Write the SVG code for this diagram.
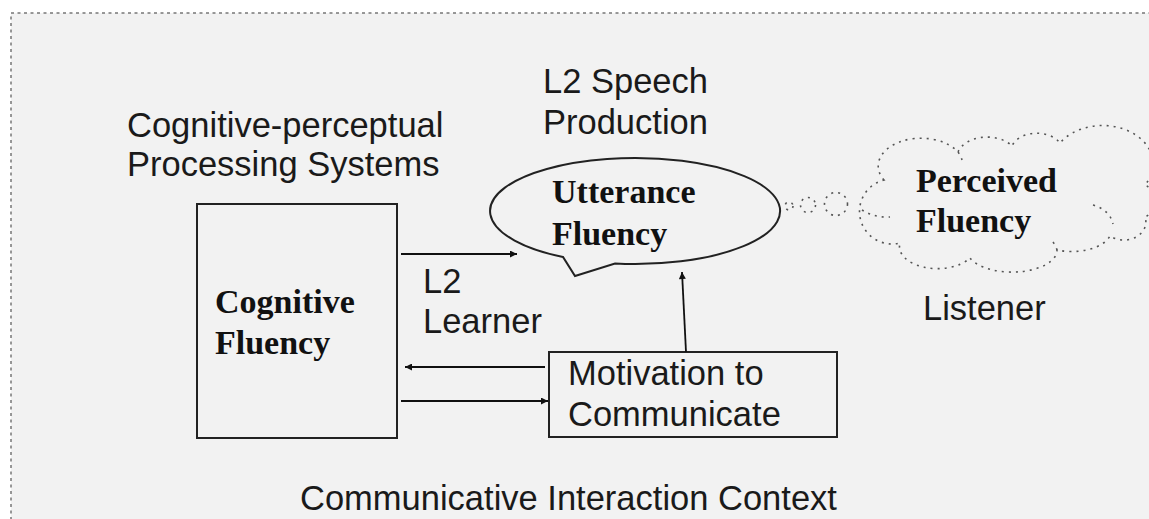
<svg xmlns="http://www.w3.org/2000/svg" width="1149" height="519" viewBox="0 0 1149 519">
<defs>
<style>
.sans{font-family:"Liberation Sans",Arial,sans-serif;font-size:34.5px;fill:#1a1a1a}
.bold{font-family:"Liberation Serif","Times New Roman",serif;font-size:34px;font-weight:bold;fill:#111}
.box{fill:none;stroke:#222;stroke-width:2}
.conn{fill:none;stroke:#111;stroke-width:1.8}
.dot{fill:none;stroke:#555;stroke-width:1.6;stroke-dasharray:2 5}
</style>
<marker id="ah" viewBox="0 0 10 10" refX="10" refY="5" markerWidth="11" markerHeight="7" markerUnits="userSpaceOnUse" orient="auto">
<path d="M0,0 L10,5 L0,10 z" fill="#111"/>
</marker>
</defs>
<rect x="0" y="0" width="1149" height="519" fill="#ffffff"/>
<rect x="11" y="13" width="1160" height="530" fill="#f2f2f2" stroke="#777" stroke-width="1.5" stroke-dasharray="3 3.5"/>

<g id="context-labels">
<text class="sans" x="127" y="137">Cognitive-perceptual</text>
<text class="sans" x="127" y="176">Processing Systems</text>
<text class="sans" x="543" y="93">L2 Speech</text>
<text class="sans" x="543" y="134">Production</text>
<text class="sans" x="423" y="293">L2</text>
<text class="sans" x="423" y="333">Learner</text>
<text class="sans" x="923" y="320">Listener</text>
<text class="sans" x="300" y="510">Communicative Interaction Context</text>
</g>

<g id="cognitive-fluency">
<rect class="box" x="197" y="204" width="200" height="234"/>
<text class="bold" x="215" y="313">Cognitive</text>
<text class="bold" x="215" y="354">Fluency</text>
</g>

<g id="utterance-fluency">
<path class="box" d="M563,257 A145,53 0 1 1 615,263.5 L575,276 Z" stroke-linejoin="miter"/>
<text class="bold" x="552" y="203">Utterance</text>
<text class="bold" x="552" y="245">Fluency</text>
</g>

<g id="motivation">
<rect class="box" x="549" y="352" width="288" height="85"/>
<text class="sans" x="568" y="385">Motivation to</text>
<text class="sans" x="568" y="426">Communicate</text>
</g>

<g id="perceived-fluency">
<circle class="dot" cx="789" cy="206" r="4"/>
<circle class="dot" cx="808" cy="205" r="7.5"/>
<circle class="dot" cx="836" cy="204" r="11.5"/>
<path class="dot" d="M884,180 A40,26 0 0 1 958,152 A30,20 0 0 1 1012,146 A26,18 0 0 1 1060,143 A50,38 0 0 1 1145,185 A20,18 0 0 1 1145,217 A22,18 0 0 1 1110,236 A40,22 0 0 1 1057,250 A45,22 0 0 1 970,258 A38,22 0 0 1 900,243 A30,30 0 0 1 884,180 Z"/>
<path class="dot" d="M862,210 Q875,218 890,217"/>
<path class="dot" d="M1093,205 Q1110,210 1113,224"/>
<path class="dot" d="M958,152 Q961,156 962,160"/>
<path class="dot" d="M1057,250 Q1056,246 1053,242"/>
<text class="bold" x="916" y="192">Perceived</text>
<text class="bold" x="916" y="232">Fluency</text>
</g>

<g id="connectors">
<line class="conn" x1="401" y1="254" x2="517" y2="254" marker-end="url(#ah)"/>
<line class="conn" x1="545" y1="367" x2="405" y2="367" marker-end="url(#ah)"/>
<line class="conn" x1="401" y1="401" x2="548" y2="401" marker-end="url(#ah)"/>
<line class="conn" x1="686" y1="352" x2="682" y2="272" marker-end="url(#ah)"/>
</g>
</svg>
